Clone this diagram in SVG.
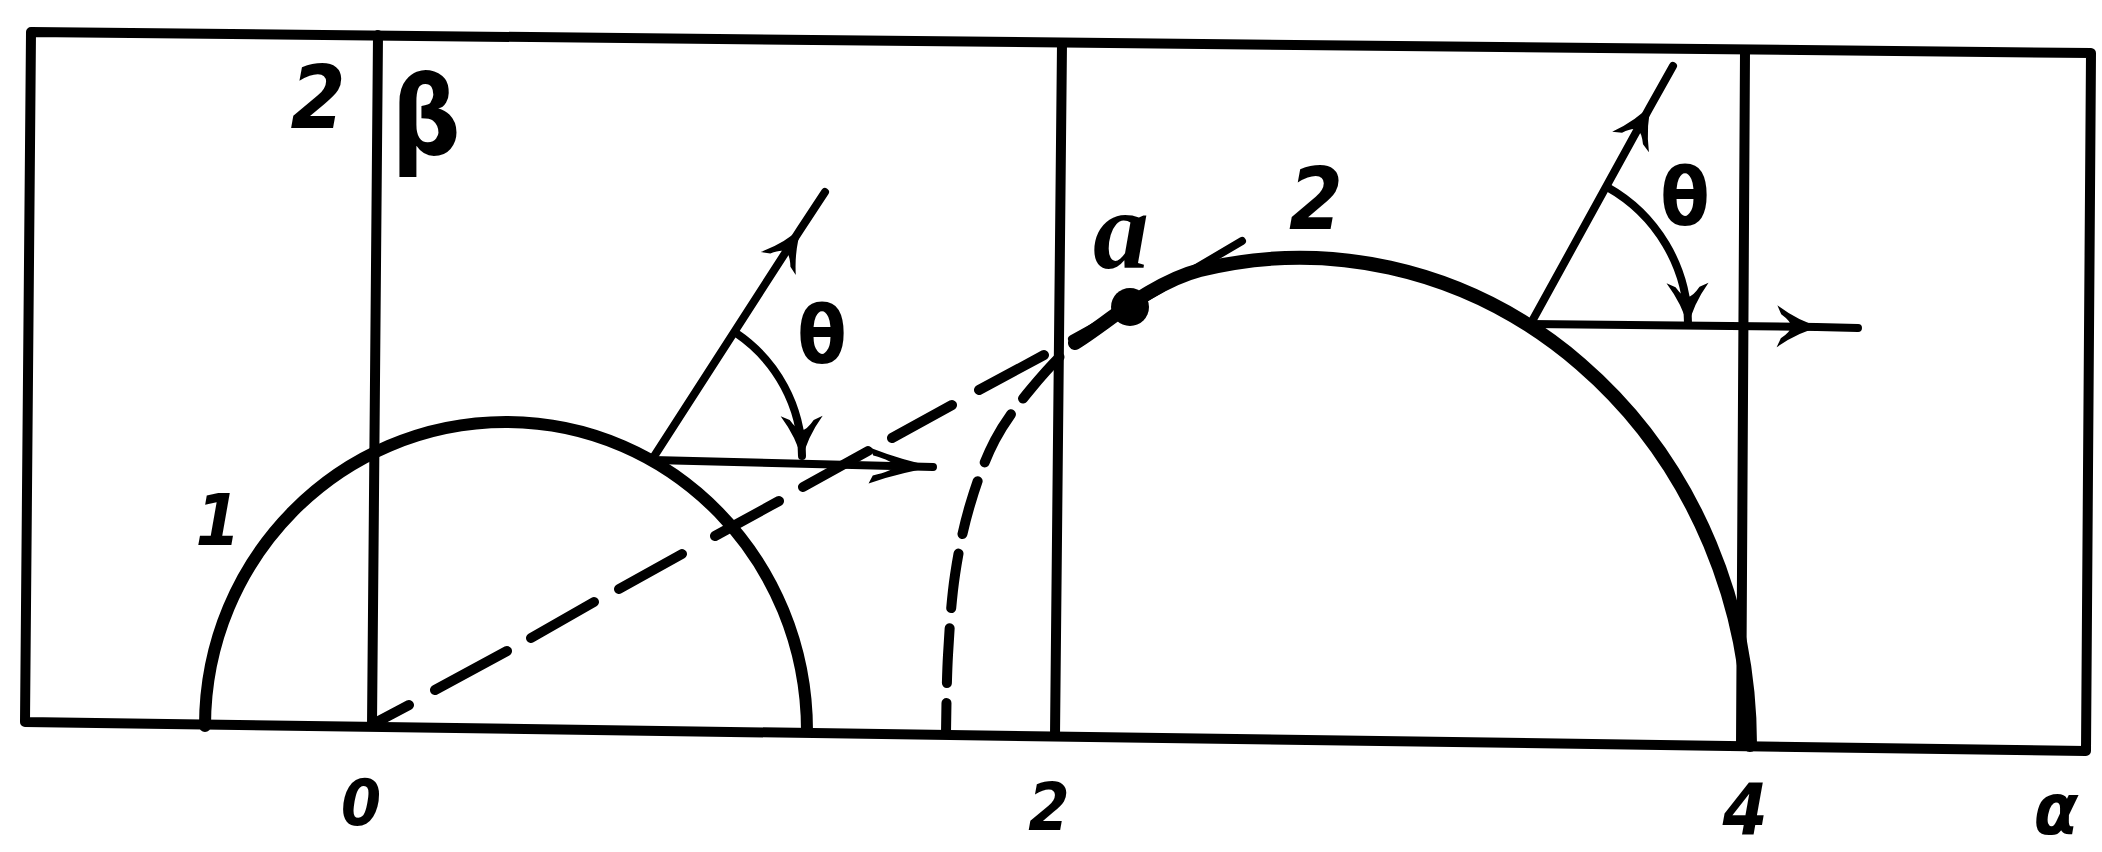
<svg xmlns="http://www.w3.org/2000/svg" width="2102" height="852" viewBox="0 0 2102 852">
<style>
.ln{fill:none;stroke:#000;stroke-linecap:round;stroke-linejoin:round}
.frame{stroke-width:10}
.axis{stroke-width:10}
.c1{stroke-width:12}
.c2{stroke-width:14}
.arr{stroke-width:8}
.dash{stroke-width:10}
.lbl{font-family:"DejaVu Sans",sans-serif;font-stretch:condensed;font-weight:bold;fill:#000;text-anchor:middle}
.it{font-style:oblique}
.ser{font-family:"Liberation Serif",serif;font-style:italic;font-weight:bold}
</style>
<defs>
<marker id="ah" viewBox="-50 -25 60 50" markerWidth="60" markerHeight="50" refX="0" refY="0" orient="auto" markerUnits="userSpaceOnUse" overflow="visible">
<path d="M4,0 Q-18,-5 -40,-21 L-36,-12 Q-26,-5 -26,0 Q-26,5 -36,12 L-40,21 Q-18,5 4,0 Z" fill="#000"/>
</marker>
<marker id="ahL" viewBox="-70 -25 80 50" markerWidth="80" markerHeight="50" refX="0" refY="0" orient="auto" markerUnits="userSpaceOnUse" overflow="visible">
<path d="M4,0 Q-28,-5 -64,-18 L-60,-10 Q-40,-5 -38,0 Q-40,5 -60,10 L-64,18 Q-28,5 4,0 Z" fill="#000"/>
</marker>
</defs>
<rect width="2102" height="852" fill="#fff"/>

<g id="frame">
<path class="ln frame" d="M31,32 L2091,53 L2086,751 L25,722 Z"/>
</g>

<g id="axes">
<path class="ln axis" d="M378,35 L372,726"/>
<path class="ln axis" d="M1062,43 L1055,736"/>
<path class="ln axis" d="M1745,51 L1741,746"/>
</g>

<g id="curve1">
<path class="ln c1" d="M205,726 C205,558 340,422 506,422 C672,422 807,560 807,731"/>
</g>

<g id="curve2">
<path class="ln c2" d="M1075,343 C1105,325 1150,283 1200,270 A450,487 0 0 1 1750,745"/>
<circle id="point-a" cx="1130" cy="307" r="19" fill="#000"/>
</g>

<g id="connectors">
<path class="ln dash" d="M946,733 C946.3,720 946.5,681 948,655 C949.5,628.7 951.3,600 955,575 C958.7,550 963.3,527.5 970,505 C976.7,482.5 985,459 995,440 C1005,421 1016.7,406 1030,390 C1043.3,374 1060,355 1075,343" stroke-dasharray="55 20" stroke-dashoffset="25"/>
<path class="ln dash" d="M375,723 L409,705 M435,690 L507,651 M531,638 L594,602 M619,589 L682,554 M715,536 L779,501 M803,487 L868,451 M892,438 L952,405 M979,390 L1044,355"/>
<path class="ln arr" d="M1072,339 L1130,307 L1242,241"/>
<path class="ln arr" d="M653,458 L800,230 L825,192" marker-mid="url(#ah)"/>
<path class="ln arr" d="M653,460 L933,467" marker-end="url(#ahL)"/>
<path class="ln arr" d="M736,333 A150,150 0 0 1 802,456" marker-end="url(#ah)"/>
<path class="ln arr" d="M1530,325 L1650,107 L1673,66" marker-mid="url(#ah)"/>
<path class="ln arr" d="M1530,324 L1817,327 L1858,328" marker-mid="url(#ah)"/>
<path class="ln arr" d="M1607,187 A158,158 0 0 1 1688,323" marker-end="url(#ah)"/>
</g>

<g id="labels">
<text class="lbl it" x="318" y="128" font-size="88">2</text>
<text class="lbl" x="426" y="154" font-size="108">β</text>
<text class="lbl it" x="218" y="545" font-size="72" font-weight="normal">1</text>
<text class="lbl it" x="361" y="825" font-size="64">0</text>
<text class="lbl it" x="1049" y="830" font-size="66">2</text>
<text class="lbl it" x="1745" y="834" font-size="72">4</text>
<text class="lbl it" x="2056" y="834" font-size="72">α</text>
<text class="lbl ser" x="1121" y="268" font-size="112">a</text>
<text class="lbl it" x="1316" y="229" font-size="86">2</text>
<text class="lbl" x="822" y="363" font-size="80">θ</text>
<text class="lbl" x="1685" y="225" font-size="80">θ</text>
</g>
</svg>
